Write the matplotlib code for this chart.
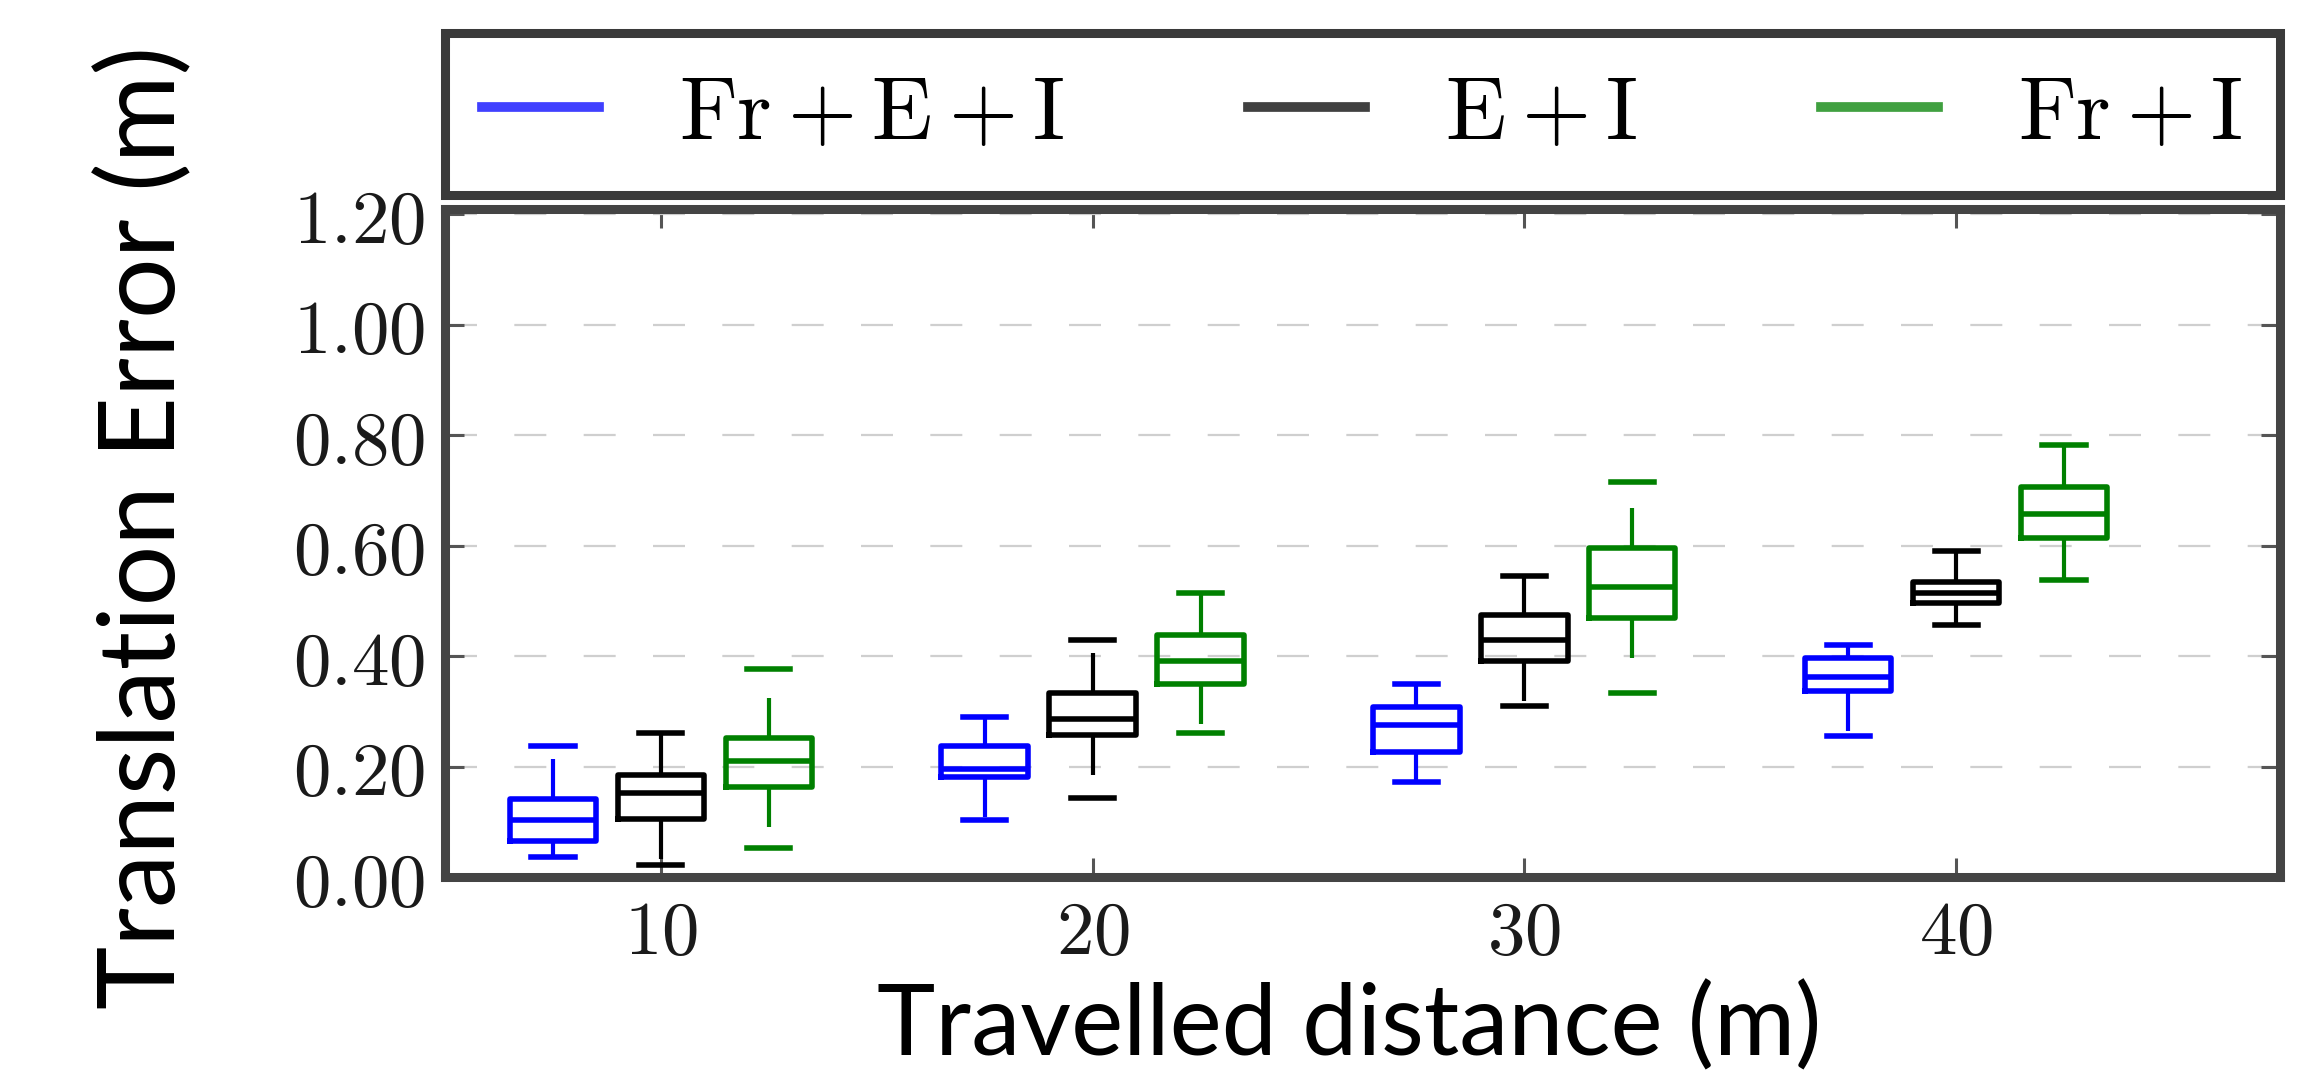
import matplotlib
matplotlib.use('Agg')
import matplotlib.pyplot as plt
from matplotlib.lines import Line2D

plt.rcParams['mathtext.fontset'] = 'cm'

# ---------------- data ----------------
distances = [10, 20, 30, 40]
xtick_labels = ['10', '20', '30', '40']
ytick_values = [0.0, 0.2, 0.4, 0.6, 0.8, 1.0, 1.2]
ytick_labels = ['0.00', '0.20', '0.40', '0.60', '0.80', '1.00', '1.20']

series_labels = ['Fr + E + I', 'E + I', 'Fr + I']
series_colors = ['#0000ff', '#000000', '#008000']

# Fr + E + I
free_whislo = [0.037, 0.104, 0.172, 0.256]
free_q1 = [0.066, 0.181, 0.228, 0.338]
free_med = [0.104, 0.197, 0.276, 0.362]
free_q3 = [0.142, 0.238, 0.308, 0.397]
free_whishi = [0.238, 0.291, 0.351, 0.420]

# E + I
ei_whislo = [0.023, 0.144, 0.311, 0.457]
ei_q1 = [0.106, 0.258, 0.392, 0.497]
ei_med = [0.152, 0.287, 0.430, 0.514]
ei_q3 = [0.186, 0.334, 0.475, 0.534]
ei_whishi = [0.262, 0.430, 0.546, 0.591]

# Fr + I
fri_whislo = [0.053, 0.262, 0.333, 0.538]
fri_q1 = [0.163, 0.351, 0.469, 0.614]
fri_med = [0.210, 0.392, 0.525, 0.657]
fri_q3 = [0.252, 0.439, 0.596, 0.706]
fri_whishi = [0.377, 0.515, 0.715, 0.783]

series_data = [
    (free_whislo, free_q1, free_med, free_q3, free_whishi),
    (ei_whislo, ei_q1, ei_med, ei_q3, ei_whishi),
    (fri_whislo, fri_q1, fri_med, fri_q3, fri_whishi),
]

# ---------------- figure ----------------
fig = plt.figure(figsize=(23.02, 10.76), dpi=100)
ax = fig.add_axes([0.1933, 0.1845, 0.7971, 0.6213])

offsets = [-2.5, 0.0, 2.5]
box_lw = 4.0
whisk_lw = 3.0

for (lo, q1, med, q3, hi), color, off in zip(series_data, series_colors, offsets):
    stats = []
    for i in range(len(distances)):
        stats.append(dict(whislo=lo[i], q1=q1[i], med=med[i], q3=q3[i], whishi=hi[i], fliers=[]))
    ax.bxp(stats, positions=[d + off for d in distances], widths=2.0, capwidths=1.0,
           showfliers=False, manage_ticks=False,
           boxprops=dict(color=color, linewidth=box_lw),
           whiskerprops=dict(color=color, linewidth=whisk_lw, linestyle=(0, (9.6, 9.6))),
           capprops=dict(color=color, linewidth=box_lw),
           medianprops=dict(color=color, linewidth=box_lw))

ax.set_xlim(5, 47.5)
ax.set_ylim(0, 1.21)
ax.set_xticks(distances)
ax.set_xticklabels(['$%s$' % t for t in xtick_labels])
ax.set_yticks(ytick_values)
ax.set_yticklabels(['$%s$' % t for t in ytick_labels])

ax.tick_params(axis='both', direction='in', length=14, width=2.2, color='#555555',
               top=True, right=True, labelsize=54, pad=14, labelcolor='#1a1a1a')

ax.yaxis.grid(True, color='#cfcfcf', linestyle=(0, (14.4, 16.8)), linewidth=1.6)
ax.xaxis.grid(False)
ax.set_axisbelow(True)

for s in ax.spines.values():
    s.set_linewidth(6.5)
    s.set_color('#444444')

ax.set_xlabel('Travelled distance (m)', family='Lato', size=71, color='black')
ax.xaxis.set_label_coords(0.4926, -0.155)
ax.set_ylabel('Translation Error (m)', family='Lato', size=77, color='black')
ax.yaxis.set_label_coords(-0.137, 0.523)

handles = [Line2D([], [], color=c, linewidth=7, alpha=0.75) for c in series_colors]
leg = ax.legend(handles, [r'$\mathrm{%s}$' % l for l in series_labels],
                loc='lower left', bbox_to_anchor=(0, 1.021, 1, 0.2), mode='expand',
                ncol=3, borderaxespad=0, fontsize=64, fancybox=False, framealpha=1,
                borderpad=0.42, handlelength=1.31, handletextpad=0.9)
leg.get_frame().set_linewidth(6.5)
leg.get_frame().set_edgecolor('#3a3a3a')

fig.savefig('out.png', dpi=100)
